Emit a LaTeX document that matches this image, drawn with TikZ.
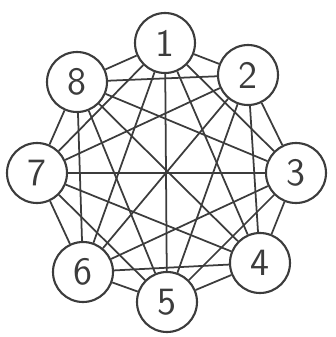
\documentclass[tikz,border=0pt]{standalone}
\usetikzlibrary{automata}
\definecolor{pencil}{RGB}{60,60,60}
\tikzset{
  every state/.style={
    draw=pencil,
    line width=0.6pt,
    fill=white,
    minimum size=6mm,
    inner sep=0pt,
    font=\fontsize{11}{13}\selectfont\sffamily\color{pencil}
  },
  link/.style={
    draw=pencil,
    line width=0.5pt
  }
}
\begin{document}
\begin{tikzpicture}
  \useasboundingbox (0,0) rectangle (3.36,3.37);
  \node[state] (1) at (1.65, 2.94) {1};
  \node[state] (2) at (2.48, 2.62) {2};
  \node[state] (3) at (2.96, 1.64) {3};
  \node[state] (4) at (2.60, 0.74) {4};
  \node[state] (5) at (1.67, 0.35) {5};
  \node[state] (6) at (0.83, 0.65) {6};
  \node[state] (7) at (0.37, 1.64) {7};
  \node[state] (8) at (0.77, 2.55) {8};
  % every pair joined
  \foreach \i in {1,...,7}{
    \pgfmathtruncatemacro{\k}{\i+1}
    \foreach \j in {\k,...,8}
      \path[link] (\i) edge (\j);
  }
\end{tikzpicture}
\end{document}
